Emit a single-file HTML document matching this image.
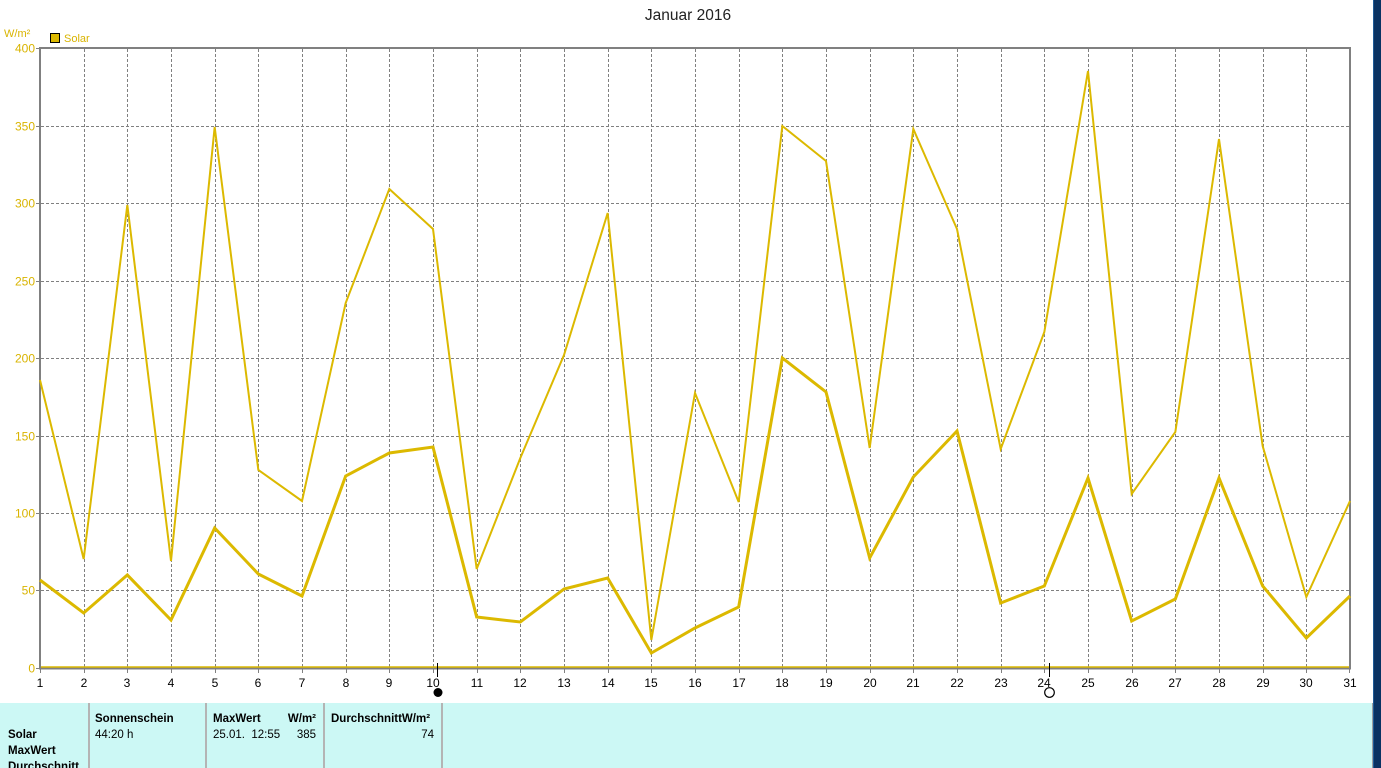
<!DOCTYPE html>
<html><head><meta charset="utf-8"><style>
html,body{margin:0;padding:0;background:#fff;width:1381px;height:768px;overflow:hidden}
svg{display:block}
text{font-family:"Liberation Sans",sans-serif}
</style></head><body>
<svg width="1381" height="768" viewBox="0 0 1381 768" xmlns="http://www.w3.org/2000/svg">
<rect x="0" y="0" width="1381" height="768" fill="#fff"/>
<!-- title -->
<text x="688" y="20" font-size="15.5" text-anchor="middle" fill="#222">Januar 2016</text>
<!-- unit & legend -->
<text x="4" y="37" font-size="11" fill="#d9b400">W/m²</text>
<rect x="50.5" y="33.5" width="9" height="9" fill="#dcb900" stroke="#000" stroke-width="1"/>
<text x="64" y="42" font-size="11" fill="#d9b400">Solar</text>
<!-- grid -->
<g stroke="#808080" stroke-width="1" stroke-dasharray="3,2" fill="none">
<path d="M41 590.5H1349M41 513.5H1349M41 436.5H1349M41 358.5H1349M41 281.5H1349M41 203.5H1349M41 126.5H1349"/>
<path d="M84.5 49V667M127.5 49V667M171.5 49V667M215.5 49V667M258.5 49V667M302.5 49V667M346.5 49V667M389.5 49V667M433.5 49V667M477.5 49V667M520.5 49V667M564.5 49V667M608.5 49V667M651.5 49V667M695.5 49V667M739.5 49V667M782.5 49V667M826.5 49V667M870.5 49V667M913.5 49V667M957.5 49V667M1001.5 49V667M1044.5 49V667M1088.5 49V667M1132.5 49V667M1175.5 49V667M1219.5 49V667M1263.5 49V667M1306.5 49V667"/>
</g>
<!-- frame -->
<g stroke="#808080" stroke-width="2" fill="none">
<path d="M40 47V669"/>
<path d="M39 48H1351"/>
<path d="M1350 47V669"/>
<path d="M39 668.5H1351"/>
</g>
<!-- ticks -->
<g stroke="#808080" stroke-width="1">
<path d="M40.5 669V673M84.5 669V673M127.5 669V673M171.5 669V673M215.5 669V673M258.5 669V673M302.5 669V673M346.5 669V673M389.5 669V673M433.5 669V673M477.5 669V673M520.5 669V673M564.5 669V673M608.5 669V673M651.5 669V673M695.5 669V673M739.5 669V673M782.5 669V673M826.5 669V673M870.5 669V673M913.5 669V673M957.5 669V673M1001.5 669V673M1044.5 669V673M1088.5 669V673M1132.5 669V673M1175.5 669V673M1219.5 669V673M1263.5 669V673M1306.5 669V673M1349.5 669V673"/>
<path d="M36 48.5H39M36 126.5H39M36 203.5H39M36 281.5H39M36 358.5H39M36 436.5H39M36 513.5H39M36 590.5H39M36 668.5H39"/>
</g>
<!-- zero line -->
<path d="M41 667H1349" stroke="#dcb900" stroke-width="1.5"/>
<!-- y labels -->
<g font-size="12" fill="#d9b400" text-anchor="end">
<text x="35" y="52.5">400</text>
<text x="35" y="130.5">350</text>
<text x="35" y="207.5">300</text>
<text x="35" y="285.5">250</text>
<text x="35" y="362.5">200</text>
<text x="35" y="440.5">150</text>
<text x="35" y="517.5">100</text>
<text x="35" y="594.5">50</text>
<text x="35" y="672.5">0</text>
</g>
<!-- x labels -->
<g font-size="12" fill="#000" text-anchor="middle">
<text x="40" y="687">1</text><text x="84" y="687">2</text><text x="127" y="687">3</text><text x="171" y="687">4</text><text x="215" y="687">5</text><text x="258" y="687">6</text><text x="302" y="687">7</text><text x="346" y="687">8</text><text x="389" y="687">9</text><text x="433" y="687">10</text><text x="477" y="687">11</text><text x="520" y="687">12</text><text x="564" y="687">13</text><text x="608" y="687">14</text><text x="651" y="687">15</text><text x="695" y="687">16</text><text x="739" y="687">17</text><text x="782" y="687">18</text><text x="826" y="687">19</text><text x="870" y="687">20</text><text x="913" y="687">21</text><text x="957" y="687">22</text><text x="1001" y="687">23</text><text x="1044" y="687">24</text><text x="1088" y="687">25</text><text x="1132" y="687">26</text><text x="1175" y="687">27</text><text x="1219" y="687">28</text><text x="1263" y="687">29</text><text x="1306" y="687">30</text><text x="1350" y="687">31</text>
</g>
<!-- series -->
<polyline fill="none" stroke="#dcb900" stroke-width="2" stroke-linejoin="miter" points="40,380 83.67,559 127.33,205 171,561 214.67,127 258.33,470 302,501 345.67,303 389.33,189 433,229 476.67,569 520.33,458 564,355 607.67,213 651.33,640 695,393 738.67,502 782.33,126 826,161 869.67,448 913.33,129 957,229 1000.67,449 1044.33,332 1088,71 1131.67,494 1175.33,432 1219,139 1262.67,446 1306.33,597 1350,501"/>
<polyline fill="none" stroke="#dcb900" stroke-width="3" stroke-linejoin="miter" points="40,580 83.67,613 127.33,575 171,620 214.67,528 258.33,574 302,596 345.67,476 389.33,453 433,447 476.67,617 520.33,622 564,589 607.67,578 651.33,653 695,628 738.67,607 782.33,358 826,392 869.67,558 913.33,477 957,431 1000.67,603 1044.33,586 1088,478 1131.67,621 1175.33,599 1219,478 1262.67,586 1306.33,638 1350,596"/>
<!-- moon markers -->
<path d="M437.5 663V677" stroke="#000" stroke-width="1"/>
<circle cx="438" cy="692.5" r="4.5" fill="#000"/>
<path d="M1049.5 663V677" stroke="#000" stroke-width="1"/>
<circle cx="1049.5" cy="692.5" r="4.8" fill="none" stroke="#000" stroke-width="1.2"/>
<!-- table -->
<rect x="0" y="703" width="1372" height="65" fill="#ccf8f5"/>
<rect x="1372" y="703" width="1" height="65" fill="#a0a0a0"/>
<g fill="#b4b4b4">
<rect x="88" y="703" width="2" height="65"/>
<rect x="205" y="703" width="2" height="65"/>
<rect x="323" y="703" width="2" height="65"/>
<rect x="441" y="703" width="2" height="65"/>
</g>
<g font-size="11.5" fill="#000">
<text x="95" y="722" font-weight="bold">Sonnenschein</text>
<text x="213" y="722" font-weight="bold">MaxWert</text>
<text x="316" y="722" font-weight="bold" text-anchor="end">W/m²</text>
<text x="331" y="722" font-weight="bold">DurchschnittW/m²</text>
<text x="8" y="738" font-weight="bold">Solar</text>
<text x="8" y="754" font-weight="bold">MaxWert</text>
<text x="8" y="770" font-weight="bold">Durchschnitt</text>
<text x="95" y="738">44:20 h</text>
<text x="213" y="738" xml:space="preserve">25.01.  12:55</text>
<text x="316" y="738" text-anchor="end">385</text>
<text x="434" y="738" text-anchor="end">74</text>
</g>
<!-- right dark strip -->
<rect x="1373" y="0" width="8" height="768" fill="#0a3262"/>
<rect x="1373" y="0" width="1" height="768" fill="#1e5a96"/>
</svg>
</body></html>
